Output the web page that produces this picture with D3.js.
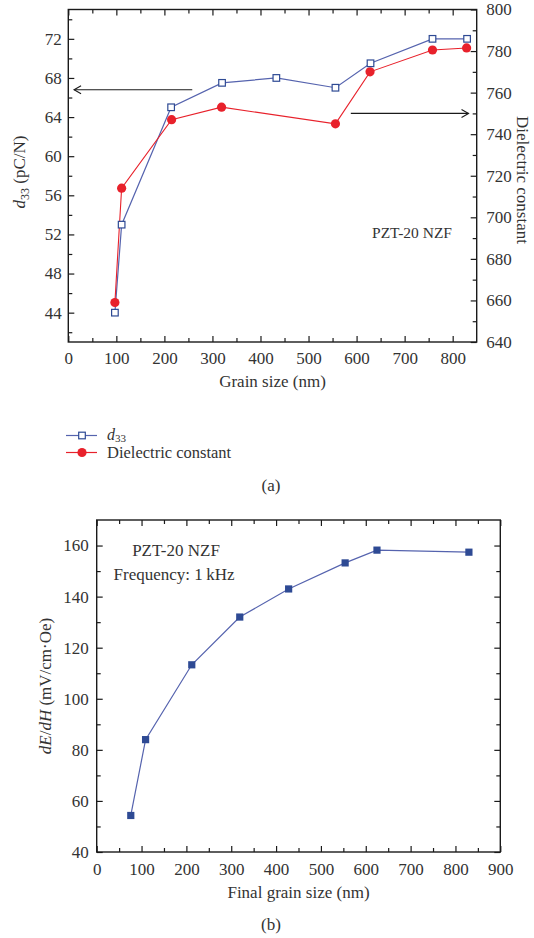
<!DOCTYPE html>
<html>
<head>
<meta charset="utf-8">
<script src="https://cdn.jsdelivr.net/npm/d3@7"></script>
<style>
  body { margin: 0; background: #fff; }
  svg { display: block; font-family: "Liberation Serif", "Times New Roman", serif; }
  svg text { font-family: "Liberation Serif", "Times New Roman", serif; }
</style>
</head>
<body>
<svg id="fig" width="534" height="938"></svg>
<script>
// ---- Panel (a): d33 and dielectric constant against grain size ----
const grainD33 = [97, 111, 214, 320, 433, 556, 629, 758, 830];
const d33 = [44.0, 53.0, 65.0, 67.5, 68.0, 67.0, 69.5, 72.0, 72.0];
const grainEps = [97, 111, 215, 319, 556, 628, 758, 829];
const dielectric = [659, 714, 747, 753, 745, 770, 780.5, 781.5];
const d33Ticks = [44, 48, 52, 56, 60, 64, 68, 72];
const epsTicks = [640, 660, 680, 700, 720, 740, 760, 780, 800];
const grainTicksA = [0, 100, 200, 300, 400, 500, 600, 700, 800];

// ---- Panel (b): magnetoelectric coefficient against final grain size ----
const grainB = [76, 109, 212, 319, 428, 554, 625, 830];
const dEdH = [54.3, 84.0, 113.3, 132.0, 143.0, 153.2, 158.2, 157.4];
const dEdHTicks = [40, 60, 80, 100, 120, 140, 160];
const grainTicksB = [0, 100, 200, 300, 400, 500, 600, 700, 800, 900];

const svg = d3.select("#fig");
const ink = "#1a1a1a";
const txt = "#333";
const serif = '"Liberation Serif", "Times New Roman", serif';
const blueLine = "#5563ae";
const blueMark = "#2e4a94";
const red = "#e8212b";
const FS = 17;

// Draws one side of a frame: labelled major ticks plus unlabelled minor ticks, all pointing inward.
function side(g, axisFn, scale, major, minor, translate, labelled, pad) {
  const a = g.append("g").attr("transform", translate);
  a.call(axisFn(scale).tickValues(major).tickSize(-6).tickPadding(pad)
        .tickFormat(labelled ? d3.format("d") : () => ""));
  a.append("g").call(axisFn(scale).tickValues(minor).tickSize(-4).tickFormat(() => ""));
  a.selectAll(".domain").remove();
  a.selectAll("line").attr("stroke", ink).attr("stroke-width", 1.2);
  a.attr("font-family", serif).attr("font-size", FS);
  a.selectAll("g").attr("font-family", serif);
  a.selectAll("text").attr("fill", txt);
  return a;
}

// ================= Panel (a) =================
const A = { left: 68.3, right: 476.7, top: 9.5, bottom: 342 };
const xA = d3.scaleLinear().domain([0, 850]).range([A.left, A.right]);
const yD = d3.scaleLinear().domain([41, 75]).range([A.bottom, A.top]);
const yE = d3.scaleLinear().domain([640, 800]).range([A.bottom, A.top]);
const gA = svg.append("g");

side(gA, d3.axisBottom, xA, grainTicksA, d3.range(50, 850, 100), `translate(0,${A.bottom})`, true, 10);
side(gA, d3.axisTop, xA, grainTicksA, d3.range(50, 850, 100), `translate(0,${A.top})`, false, 0);
side(gA, d3.axisLeft, yD, d33Ticks, d3.range(42, 75, 4), `translate(${A.left},0)`, true, 6.5);
side(gA, d3.axisRight, yE, epsTicks, d3.range(650, 800, 20), `translate(${A.right},0)`, true, 9.5);

gA.append("rect")
  .attr("x", A.left).attr("y", A.top)
  .attr("width", A.right - A.left).attr("height", A.bottom - A.top)
  .attr("fill", "none").attr("stroke", ink).attr("stroke-width", 1.4);

// direction arrows pointing at the relevant axis
const arrowHead = (g, x, y, dir) => {
  g.append("path")
    .attr("d", `M${x - dir * 7},${y - 4}L${x},${y}L${x - dir * 7},${y + 4}`)
    .attr("fill", "none").attr("stroke", ink).attr("stroke-width", 1.1);
};
const arrL = { from: 258, to: 12, val: 66.8 };
gA.append("line")
  .attr("x1", xA(arrL.from)).attr("x2", xA(arrL.to))
  .attr("y1", yD(arrL.val)).attr("y2", yD(arrL.val))
  .attr("stroke", ink).attr("stroke-width", 1.1);
arrowHead(gA, xA(arrL.to), yD(arrL.val), -1);
const arrR = { from: 588, to: 833, val: 750 };
gA.append("line")
  .attr("x1", xA(arrR.from)).attr("x2", xA(arrR.to))
  .attr("y1", yE(arrR.val)).attr("y2", yE(arrR.val))
  .attr("stroke", ink).attr("stroke-width", 1.1);
arrowHead(gA, xA(arrR.to), yE(arrR.val), 1);

// series lines and markers
const epsPts = grainEps.map((g, i) => [g, dielectric[i]]);
const d33Pts = grainD33.map((g, i) => [g, d33[i]]);
gA.append("path")
  .attr("d", d3.line().x(d => xA(d[0])).y(d => yD(d[1]))(d33Pts))
  .attr("fill", "none").attr("stroke", blueLine).attr("stroke-width", 1.2);
gA.append("path")
  .attr("d", d3.line().x(d => xA(d[0])).y(d => yE(d[1]))(epsPts))
  .attr("fill", "none").attr("stroke", red).attr("stroke-width", 1.1);
gA.selectAll("circle.eps").data(epsPts).join("circle")
  .attr("cx", d => xA(d[0])).attr("cy", d => yE(d[1])).attr("r", 4.6)
  .attr("fill", red);
gA.selectAll("rect.d33").data(d33Pts).join("rect")
  .attr("x", d => xA(d[0]) - 3.3).attr("y", d => yD(d[1]) - 3.3)
  .attr("width", 6.6).attr("height", 6.6)
  .attr("fill", "#fff").attr("stroke", blueMark).attr("stroke-width", 1.2);

gA.append("text").attr("x", 412).attr("y", 238).attr("text-anchor", "middle")
  .attr("font-size", 15.5).attr("fill", txt).text("PZT-20 NZF");

// axis titles
gA.append("text").attr("x", (A.left + A.right) / 2).attr("y", 387)
  .attr("text-anchor", "middle").attr("font-size", FS).attr("fill", txt)
  .text("Grain size (nm)");
const tL = gA.append("text")
  .attr("transform", `translate(25,172) rotate(-90)`)
  .attr("text-anchor", "middle").attr("font-size", FS).attr("fill", txt);
tL.append("tspan").attr("font-style", "italic").text("d");
tL.append("tspan").attr("font-size", 12).attr("dy", 3.5).text("33");
tL.append("tspan").attr("dy", -3.5).text(" (pC/N)");
gA.append("text")
  .attr("transform", `translate(517,180) rotate(90)`)
  .attr("text-anchor", "middle").attr("font-size", 17).attr("fill", txt)
  .text("Dielectric constant");

// legend
const leg = gA.append("g");
const legRows = [
  { y: 435.5, kind: "d33" },
  { y: 452.5, kind: "eps" }
];
legRows.forEach(r => {
  leg.append("line").attr("x1", 66).attr("x2", 97).attr("y1", r.y).attr("y2", r.y)
    .attr("stroke", r.kind === "d33" ? blueLine : red).attr("stroke-width", 1.2);
  if (r.kind === "d33") {
    leg.append("rect").attr("x", 82 - 3.3).attr("y", r.y - 3.3).attr("width", 6.6).attr("height", 6.6)
      .attr("fill", "#fff").attr("stroke", blueMark).attr("stroke-width", 1.2);
    const t = leg.append("text").attr("x", 107).attr("y", r.y + 4).attr("font-size", 16).attr("fill", txt);
    t.append("tspan").attr("font-style", "italic").text("d");
    t.append("tspan").attr("font-size", 11).attr("dy", 2.5).text("33");
  } else {
    leg.append("circle").attr("cx", 82).attr("cy", r.y).attr("r", 4.6).attr("fill", red);
    leg.append("text").attr("x", 107).attr("y", r.y + 5.5).attr("font-size", 16.5).attr("fill", txt)
      .text("Dielectric constant");
  }
});
gA.append("text").attr("x", 271).attr("y", 491).attr("text-anchor", "middle")
  .attr("font-size", FS).attr("fill", txt).text("(a)");

// ================= Panel (b) =================
const B = { left: 96.7, right: 500.3, top: 520, bottom: 852 };
const xB = d3.scaleLinear().domain([0, 900]).range([B.left, B.right]);
const yB = d3.scaleLinear().domain([40, 170]).range([B.bottom, B.top]);
const gB = svg.append("g");

side(gB, d3.axisBottom, xB, grainTicksB, d3.range(50, 900, 100), `translate(0,${B.bottom})`, true, 11);
side(gB, d3.axisTop, xB, grainTicksB, d3.range(50, 900, 100), `translate(0,${B.top})`, false, 0);
side(gB, d3.axisLeft, yB, dEdHTicks, d3.range(50, 170, 20), `translate(${B.left},0)`, true, 8);
side(gB, d3.axisRight, yB, dEdHTicks, d3.range(50, 170, 20), `translate(${B.right},0)`, false, 0);

gB.append("rect")
  .attr("x", B.left).attr("y", B.top)
  .attr("width", B.right - B.left).attr("height", B.bottom - B.top)
  .attr("fill", "none").attr("stroke", ink).attr("stroke-width", 1.4);

const bPts = grainB.map((g, i) => [g, dEdH[i]]);
gB.append("path")
  .attr("d", d3.line().x(d => xB(d[0])).y(d => yB(d[1]))(bPts))
  .attr("fill", "none").attr("stroke", blueLine).attr("stroke-width", 1.2);
gB.selectAll("rect.pt").data(bPts).join("rect")
  .attr("x", d => xB(d[0]) - 3.6).attr("y", d => yB(d[1]) - 3.6)
  .attr("width", 7.2).attr("height", 7.2).attr("fill", blueMark);

gB.append("text").attr("x", 176).attr("y", 555.5).attr("text-anchor", "middle")
  .attr("font-size", 17).attr("fill", txt).text("PZT-20 NZF");
gB.append("text").attr("x", 174).attr("y", 579.5).attr("text-anchor", "middle")
  .attr("font-size", 17).attr("fill", txt).text("Frequency: 1\u2009kHz");

gB.append("text").attr("x", (B.left + B.right) / 2).attr("y", 898)
  .attr("text-anchor", "middle").attr("font-size", FS).attr("fill", txt)
  .text("Final grain size (nm)");
const tB = gB.append("text")
  .attr("transform", `translate(51,${(B.top + B.bottom) / 2}) rotate(-90)`)
  .attr("text-anchor", "middle").attr("font-size", FS).attr("fill", txt);
tB.append("tspan").attr("font-style", "italic").text("dE");
tB.append("tspan").text("/");
tB.append("tspan").attr("font-style", "italic").text("dH");
tB.append("tspan").text(" (mV/cm\u00b7Oe)");
gB.append("text").attr("x", 271).attr("y", 930).attr("text-anchor", "middle")
  .attr("font-size", FS).attr("fill", txt).text("(b)");
</script>
</body>
</html>
